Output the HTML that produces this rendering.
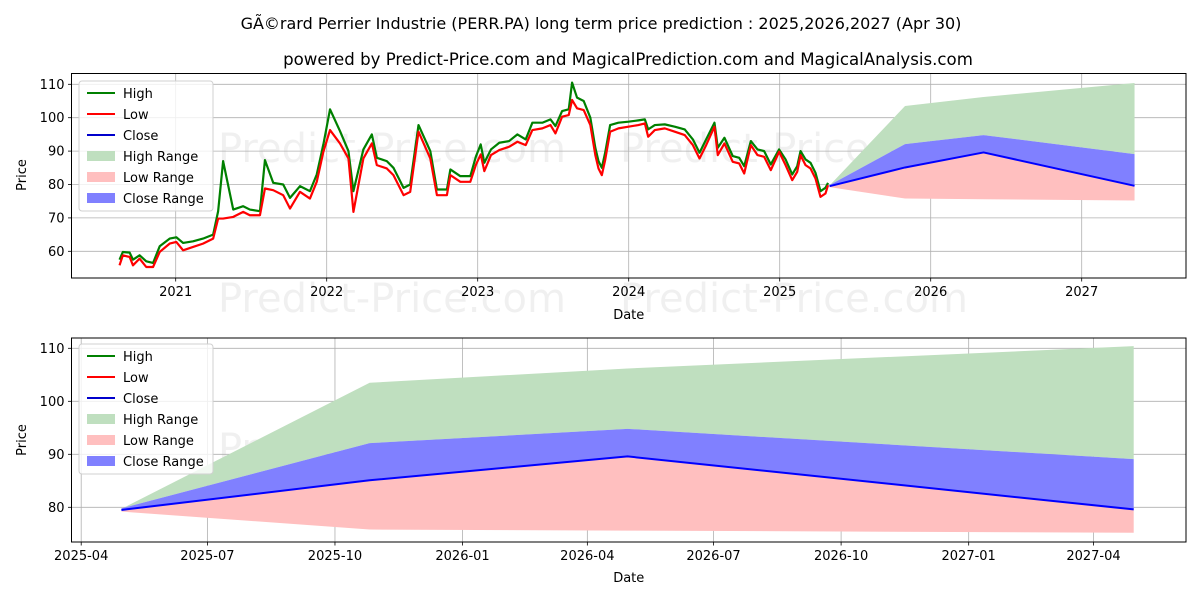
<!DOCTYPE html>
<html><head><meta charset="utf-8"><style>
body{margin:0;background:#fff;}
svg{display:block;font-family:"DejaVu Sans","Liberation Sans",sans-serif;}
</style></head><body>
<svg id="chart" width="1200" height="600" viewBox="0 0 1200 600" xmlns="http://www.w3.org/2000/svg">
<rect width="1200" height="600" fill="#fff"/>
<text x="601" y="29" text-anchor="middle" font-size="16">GÃ©rard Perrier Industrie (PERR.PA) long term price prediction : 2025,2026,2027 (Apr 30)</text>
<text x="628" y="65" text-anchor="middle" font-size="16.6">powered by Predict-Price.com and MagicalPrediction.com and MagicalAnalysis.com</text>
<g id="top"></g>
<g id="bot"></g>
</svg>
<script>
// ---- historical data (year fraction) ----
const histDates=[2020.628,2020.650,2020.695,2020.717,2020.761,2020.805,2020.850,2020.894,2020.960,2021.004,2021.049,2021.115,2021.181,2021.248,2021.281,2021.314,2021.381,2021.447,2021.491,2021.558,2021.591,2021.646,2021.712,2021.757,2021.823,2021.889,2021.934,2021.978,2022.022,2022.088,2022.144,2022.177,2022.243,2022.299,2022.332,2022.398,2022.442,2022.509,2022.553,2022.608,2022.686,2022.730,2022.796,2022.819,2022.885,2022.951,2022.989,2023.020,2023.044,2023.088,2023.143,2023.208,2023.263,2023.318,2023.362,2023.428,2023.482,2023.515,2023.559,2023.603,2023.625,2023.658,2023.702,2023.746,2023.779,2023.800,2023.822,2023.844,2023.877,2023.932,2023.998,2024.064,2024.107,2024.129,2024.173,2024.239,2024.305,2024.371,2024.425,2024.469,2024.513,2024.568,2024.590,2024.634,2024.689,2024.732,2024.765,2024.809,2024.853,2024.897,2024.941,2024.996,2025.039,2025.083,2025.116,2025.138,2025.171,2025.204,2025.237,2025.270,2025.303,2025.320];
const histLow=[55.8,58.8,58.3,55.8,57.8,55.3,55.3,59.8,62.3,62.8,60.3,61.3,62.3,63.8,69.8,69.8,70.3,71.8,70.8,70.8,78.8,78.3,76.8,72.8,77.8,75.8,80.8,89.8,96.3,92.3,87.8,71.8,87.8,92.3,85.8,84.8,82.8,76.8,77.8,95.8,87.8,76.8,76.8,82.8,80.8,80.8,86,89,84,88.8,90.3,91.3,92.8,91.8,96.3,96.8,97.8,95.3,100.3,100.8,105.3,102.8,102.3,97.8,88.8,84.8,82.8,87.3,95.8,96.8,97.3,97.8,98.3,94.3,96.3,96.8,95.8,94.8,91.8,87.8,91.8,97.3,88.8,92.3,86.8,86.3,83.3,91.8,88.8,88.3,84.3,89.8,85.8,81.3,83.8,88.8,85.8,84.8,81.8,76.3,77.3,79.8];
const histHigh=[57.5,59.8,59.6,57.5,58.8,57,56.5,61.5,63.8,64.2,62.5,63,63.8,65,72,87,72.5,73.5,72.5,72,87.3,80.5,80,76,79.5,78,83,92,102.5,96,90,78,90.5,95,88,87,85,79,80,97.8,90,78.5,78.5,84.5,82.5,82.5,88.5,92,86.5,90.5,92.5,93,95,93.5,98.5,98.5,99.5,97.5,102,102.5,110.5,106,105,100,91,87,85,89.5,97.8,98.5,98.8,99.2,99.5,96.5,97.8,98,97.3,96.5,93.5,89.5,93.5,98.5,91,94,88.5,88,85.5,93,90.5,90,86,90.5,87.5,83,85.5,90,87.5,86.5,83.5,78,79,80.5];
// ---- forecast data ----
const fcYears=[2025.33,2025.83,2026.35,2027.35];
const fcDays=[29,208,394,759]; // days since 2025-04-01
const fcHigh=[79.7,103.5,106.2,110.4];
const fcCloseHigh=[79.8,92.1,94.8,89.1];
const fcClose=[79.5,85.1,89.6,79.6];
const fcLow=[79.2,75.8,75.6,75.2];
const topYTicks=[60,70,80,90,100,110];
const topXTicks=[2021,2022,2023,2024,2025,2026,2027];
const botYTicks=[80,90,100,110];
const botXTickLabels=["2025-04","2025-07","2025-10","2026-01","2026-04","2026-07","2026-10","2027-01","2027-04"];
const botXTickDays=[0,91,183,275,365,456,548,640,730];

const NS="http://www.w3.org/2000/svg";
function mk(p,tag,at,txt){const e=document.createElementNS(NS,tag);for(const k in at)e.setAttribute(k,at[k]);if(txt!==undefined)e.textContent=txt;p.appendChild(e);return e;}

function panel(g,o){
  const {L,R,T,B,x,y,xt,xl,yt,yLabelY,xLabelY}=o;
  o.wm.forEach(w=>{const t=mk(g,'text',{x:w[0],y:w[1],'font-size':40,fill:'#000','fill-opacity':0.06});t.textContent='Predict-Price.com';
    
    });
  yt.forEach(v=>{const l=mk(g,'line',{x1:L,x2:R,y1:y(v),y2:y(v),stroke:'#b0b0b0','stroke-width':0.8});
    
    
    mk(g,'line',{x1:L-3.5,x2:L,y1:y(v),y2:y(v),stroke:'#000','stroke-width':0.8});
    const t=mk(g,'text',{x:L-7,y:y(v)+4.5,'text-anchor':'end','font-size':13},v);
    
    });
  xt.forEach((d,i)=>{const X=x(d);const l=mk(g,'line',{x1:X,x2:X,y1:T,y2:B,stroke:'#b0b0b0','stroke-width':0.8});
    
    
    mk(g,'line',{x1:X,x2:X,y1:B,y2:B+3.5,stroke:'#000','stroke-width':0.8});
    const t=mk(g,'text',{x:X,y:B+18,'text-anchor':'middle','font-size':13},xl[i]);
    
    });
  const yl=mk(g,'text',{x:0,y:0,transform:`translate(26,${yLabelY}) rotate(-90)`,'text-anchor':'middle','font-size':13},'Price');
  
  
  const xlb=mk(g,'text',{x:(L+R)/2,y:xLabelY,'text-anchor':'middle','font-size':13},'Date');
  
  
}
function poly(g,xs,top,bot,fill,name){
  let pts=xs.map((a,i)=>a+','+top[i]).concat(xs.map((a,i)=>a+','+bot[i]).reverse());
  const p=mk(g,'polygon',{points:pts.join(' '),fill:fill});
  
  
}
function line(g,xs,ys,col,w,name){
  const p=mk(g,'polyline',{points:xs.map((a,i)=>a+','+ys[i]).join(' '),fill:'none',stroke:col,'stroke-width':w,'stroke-linejoin':'round'});
  
  
}
function forecast(g,xs,y){
  poly(g,xs,fcHigh.map(y),fcCloseHigh.map(y),'#bfdfbf','high-range-area');
  poly(g,xs,fcClose.map(y),fcLow.map(y),'#ffbfbf','low-range-area');
  poly(g,xs,fcCloseHigh.map(y),fcClose.map(y),'#8080ff','close-range-area');
  line(g,xs,fcClose.map(y),'#0000ff',2,'close-line');
}
function legend(g,x0,y0){
  const bg=mk(g,'rect',{x:x0,y:y0,width:134,height:130,rx:3,fill:'#fff','fill-opacity':0.8,stroke:'#d0d0d0'});
  
  
  const items=[['High','l','#008000'],['Low','l','#ff0000'],['Close','l','#0000cc'],['High Range','r','#bfdfbf'],['Low Range','r','#ffbfbf'],['Close Range','r','#8080ff']];
  items.forEach((it,i)=>{const cy=y0+12+i*21;
    if(it[1]=='l')mk(g,'line',{x1:x0+8,x2:x0+36,y1:cy,y2:cy,stroke:it[2],'stroke-width':2});
    else mk(g,'rect',{x:x0+8,y:cy-5,width:28,height:10,fill:it[2]});
    const t=mk(g,'text',{x:x0+44,y:cy+5,'font-size':13},it[0]);
    
    });
}
{const g=document.getElementById('top');const L=71.5,R=1186,T=73.5,B=278;
 const x=yr=>175.7+(yr-2021)*151, y=v=>84.3+(110-v)*3.34;
 panel(g,{L,R,T,B,x,y,xt:topXTicks,xl:topXTicks,yt:topYTicks,yLabelY:175,xLabelY:319,wm:[[218,162],[620,162],[218,312],[620,312]]});
 forecast(g,fcYears.map(x),y);
 line(g,histDates.map(x),histHigh.map(y),'#008000',2.2,'high-line');
 line(g,histDates.map(x),histLow.map(y),'#ff0000',2.2,'low-line');
 mk(g,'rect',{x:L,y:T,width:R-L,height:B-T,fill:'none',stroke:'#000','stroke-width':1});
 legend(g,79,81);}
{const g=document.getElementById('bot');const L=71.5,R=1186,T=338,B=542;
 const x=d=>81.2+d*1.3867, y=v=>348.3+(110-v)*5.3;
 panel(g,{L,R,T,B,x,y,xt:botXTickDays,xl:botXTickLabels,yt:botYTicks,yLabelY:440,xLabelY:582,wm:[[218,462],[620,462]]});
 forecast(g,fcDays.map(x),y);
 mk(g,'rect',{x:L,y:T,width:R-L,height:B-T,fill:'none',stroke:'#000','stroke-width':1});
 legend(g,79,344);}
</script>
</body></html>
